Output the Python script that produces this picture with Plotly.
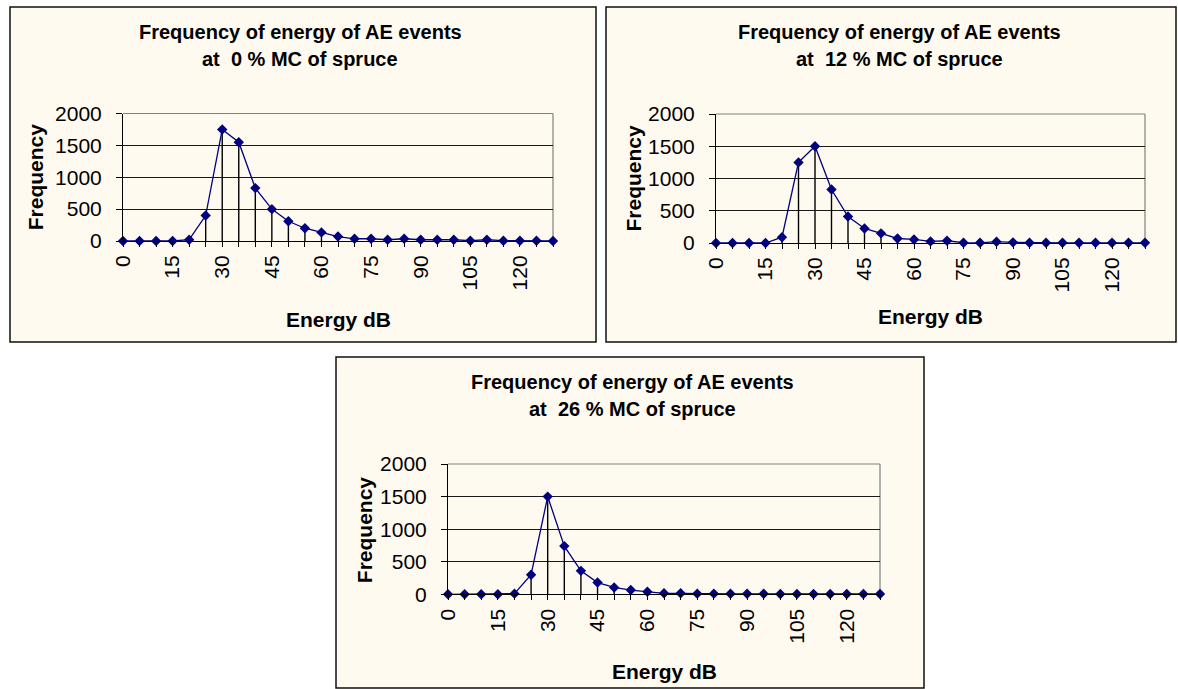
import plotly.graph_objects as go

W, H = 1178, 689

# ---- data ----
energy_db = [0, 5, 10, 15, 20, 25, 30, 35, 40, 45, 50, 55, 60, 65,
             70, 75, 80, 85, 90, 95, 100, 105, 110, 115, 120, 125, 130]
tick_labels = [0, 15, 30, 45, 60, 75, 90, 105, 120]
y_ticks = [0, 500, 1000, 1500, 2000]

freq_mc0 = [0, 0, 0, 0, 20, 400, 1750, 1550, 830, 500, 310, 200, 135, 70,
            35, 35, 20, 35, 20, 20, 20, 5, 20, 5, 5, 3, 0]
freq_mc12 = [0, 0, 0, 0, 90, 1250, 1500, 830, 410, 225, 150, 70, 55, 25,
             35, 5, 3, 20, 10, 5, 5, 3, 3, 3, 3, 3, 3]
freq_mc26 = [0, 0, 0, 0, 10, 300, 1500, 740, 360, 180, 105, 65, 40, 15,
             15, 10, 10, 8, 8, 8, 5, 5, 5, 5, 5, 5, 5]

mc_values = ["0", "12", "26"]
title_line1 = "Frequency of energy of AE events"
x_title = "Energy dB"
y_title = "Frequency"

series = [freq_mc0, freq_mc12, freq_mc26]

# ---- layout geometry (pixels) ----
panels = [
    dict(box=(10, 7, 596, 342), plot=(123, 113.5, 553, 241), tx=300, ty=(32, 59), yx=35, xy=319),
    dict(box=(606, 7, 1176, 342), plot=(716, 114, 1145, 243), tx=899, ty=(32, 59), yx=633, xy=317),
    dict(box=(336, 357, 924, 688), plot=(448, 464, 880, 594.3), tx=632, ty=(382, 409), yx=364, xy=671),
]

BG = "#FFFAF0"
NAVY = "#000080"
FONT = "Liberation Sans, Arial, sans-serif"


def px(x):
    return x / W


def py(y):
    return 1 - y / H


fig = go.Figure()
shapes = []
annotations = []
layout_axes = {}

for i, (p, data, mc) in enumerate(zip(panels, series, mc_values)):
    n = "" if i == 0 else str(i + 1)
    xa, ya = "x" + n, "y" + n
    bx0, by0, bx1, by1 = p["box"]
    x0, y0, x1, y1 = p["plot"]

    # chart frame
    shapes.append(dict(type="rect", xref="paper", yref="paper",
                       x0=px(bx0), x1=px(bx1), y0=py(by1), y1=py(by0),
                       line=dict(color="#111111", width=1.5), fillcolor=BG,
                       layer="below"))
    # plot area border (top & right, grey)
    shapes.append(dict(type="line", xref="paper", yref="paper",
                       x0=px(x0), x1=px(x1), y0=py(y0), y1=py(y0),
                       line=dict(color="#808080", width=1.2), layer="above"))
    shapes.append(dict(type="line", xref="paper", yref="paper",
                       x0=px(x1), x1=px(x1), y0=py(y1), y1=py(y0),
                       line=dict(color="#808080", width=1.2), layer="below"))

    # drop lines
    dx, dy = [], []
    for e, v in zip(energy_db, data):
        dx += [e, e, None]
        dy += [0, v, None]
    fig.add_trace(go.Scatter(x=dx, y=dy, mode="lines", xaxis=xa, yaxis=ya,
                             line=dict(color="black", width=1.4),
                             hoverinfo="skip", showlegend=False, cliponaxis=False))
    fig.add_trace(go.Scatter(x=energy_db, y=data, mode="lines+markers",
                             xaxis=xa, yaxis=ya,
                             line=dict(color=NAVY, width=1.3),
                             marker=dict(symbol="diamond", size=8, color=NAVY),
                             showlegend=False, cliponaxis=False))

    layout_axes["xaxis" + n] = dict(
        domain=[px(x0), px(x1)], anchor=ya, range=[0, 130], automargin=False,
        tickvals=tick_labels, ticktext=[str(t) for t in tick_labels],
        tickangle=-90, ticks="outside", ticklen=5, tickcolor="black",
        ticklabelstandoff=0,
        minor=dict(dtick=5, tick0=0, ticks="outside", ticklen=5, tickcolor="black", showgrid=False),
        showline=True, linecolor="black", linewidth=1, showgrid=False, zeroline=False,
        tickfont=dict(family=FONT, size=21, color="black"), fixedrange=True,
    )
    layout_axes["yaxis" + n] = dict(
        domain=[py(y1), py(y0)], anchor=xa, range=[0, 2000], automargin=False,
        tickvals=y_ticks, ticks="outside", ticklen=6, tickcolor="black",
        ticklabelstandoff=10,
        showline=True, linecolor="black", linewidth=1,
        showgrid=True, gridcolor="#1a1a1a", gridwidth=1, zeroline=False,
        tickfont=dict(family=FONT, size=21, color="black"), fixedrange=True,
    )

    # titles
    annotations.append(dict(text="<b>" + title_line1 + "</b>", xref="paper", yref="paper",
                            x=px(p["tx"]), y=py(p["ty"][0]), showarrow=False,
                            xanchor="center", yanchor="middle",
                            font=dict(family=FONT, size=20, color="black")))
    annotations.append(dict(text="<b>at\u00a0 " + mc + " % MC of spruce</b>", xref="paper", yref="paper",
                            x=px(p["tx"]), y=py(p["ty"][1]), showarrow=False,
                            xanchor="center", yanchor="middle",
                            font=dict(family=FONT, size=20, color="black")))
    # axis titles
    annotations.append(dict(text="<b>" + x_title + "</b>", xref="paper", yref="paper",
                            x=px((x0 + x1) / 2), y=py(p["xy"]), showarrow=False,
                            xanchor="center", yanchor="middle",
                            font=dict(family=FONT, size=21, color="black")))
    annotations.append(dict(text="<b>" + y_title + "</b>", xref="paper", yref="paper",
                            x=px(p["yx"]), y=py((y0 + y1) / 2), showarrow=False,
                            xanchor="center", yanchor="middle", textangle=-90,
                            font=dict(family=FONT, size=21, color="black")))

fig.update_layout(
    template="none",
    width=W, height=H,
    margin=dict(l=0, r=0, t=0, b=0, pad=0, autoexpand=False),
    paper_bgcolor="white", plot_bgcolor=BG,
    shapes=shapes, annotations=annotations,
    showlegend=False,
    **layout_axes,
)

fig.write_html(
    "out.html",
    config={"displayModeBar": False},
    post_script="document.body.style.margin='0';document.body.style.padding='0';"
                "document.documentElement.style.overflow='hidden';",
)
